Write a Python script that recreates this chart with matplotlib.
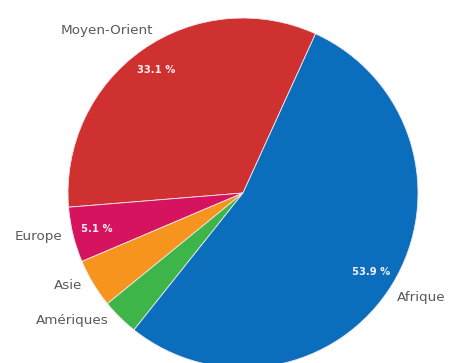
import matplotlib
matplotlib.use("Agg")
import matplotlib.pyplot as plt

regions = ["Moyen-Orient", "Europe", "Asie", "Amériques", "Afrique"]
shares = [33.1, 5.1, 4.5, 3.4, 53.9]
colors = ["#cf3030", "#d6135f", "#f7941d", "#3eb549", "#0a6ebd"]

# outside name positions (x, y in radius units) and alignment
name_pos = {
    "Moyen-Orient": (-0.78, 0.93, "center"),
    "Europe": (-1.03, -0.25, "right"),
    "Asie": (-0.92, -0.53, "right"),
    "Amériques": (-0.77, -0.73, "right"),
    "Afrique": (0.88, -0.60, "left"),
}

W, H, DPI = 451, 363, 100
cx, cy, R = 243, 193, 175

fig = plt.figure(figsize=(W / DPI, H / DPI), dpi=DPI)
ax = fig.add_axes([0, 0, 1, 1])

wedges, _, autotexts = ax.pie(
    shares,
    colors=colors,
    startangle=65.5,
    counterclock=True,
    radius=1.0,
    autopct=lambda p: f"{p:.1f} %" if p >= 5 else "",
    pctdistance=0.86,
    wedgeprops=dict(edgecolor="#f4e6ee", linewidth=0.6),
    textprops=dict(color="#fbeef0", fontsize=7.2, fontweight="semibold"),
)

for name in regions:
    x, y, ha = name_pos[name]
    ax.text(x, y, name, ha=ha, va="center", fontsize=9.7, color="#5a5a5a")

ax.set_aspect("auto")
ax.set_xlim(-cx / R, (W - cx) / R)
ax.set_ylim(-(H - cy) / R, cy / R)
ax.axis("off")

fig.savefig("out.png", dpi=DPI, facecolor="white")
